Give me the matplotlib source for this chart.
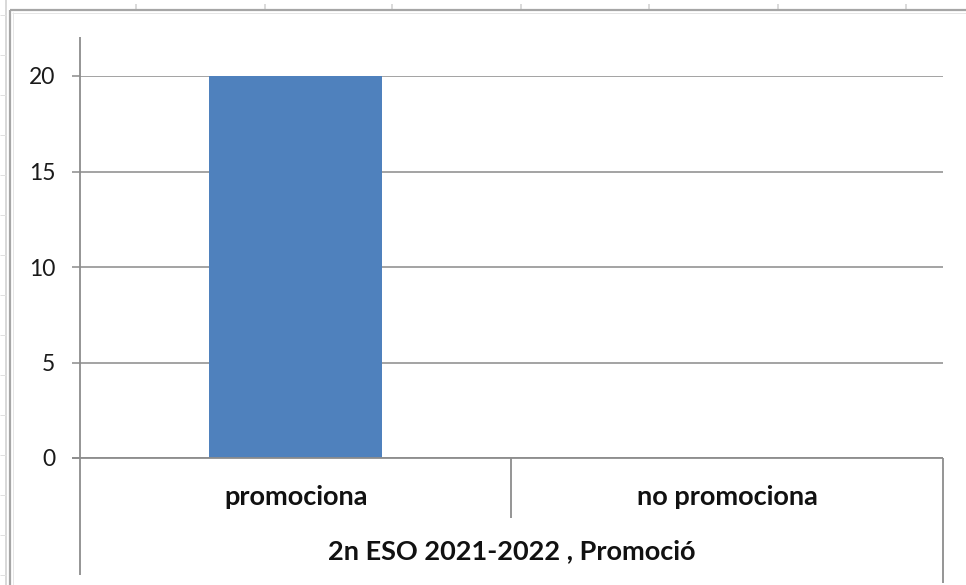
import matplotlib
matplotlib.use("Agg")
import matplotlib.pyplot as plt
from matplotlib.lines import Line2D

categories = ["promociona", "no promociona"]
values = [20, 0]
yticks = [0, 5, 10, 15, 20]
group_label = "2n ESO 2021-2022 , Promoció"

W, H = 966, 585
fig = plt.figure(figsize=(W / 100, H / 100), dpi=100)
fig.patch.set_facecolor("white")


def fx(x):
    return x / W


def fy(y):
    return 1 - y / H


def fline(x0, y0, x1, y1, color, lw_px, z=5):
    fig.add_artist(Line2D([fx(x0), fx(x1)], [fy(y0), fy(y1)], transform=fig.transFigure,
                          color=color, linewidth=lw_px * 0.72, solid_capstyle="butt", zorder=z))


# spreadsheet background hints
fline(6, 0, 6, H, "#d9d9d9", 2, z=1)
for y in range(15, H, 40):
    fline(0, y, 6, y, "#e0e0e0", 1, z=1)
for x in [136, 265, 392, 521, 649, 778, 906]:
    fline(x, 4, x, 10, "#d0d0d0", 1.5, z=1)
# chart area border
fline(10, 10, W, 10, "#a6a6a6", 2.2, z=2)
fline(10, 10, 10, H, "#a6a6a6", 2.2, z=2)
fline(12, 12.5, W, 12.5, "#e6e6e6", 1, z=2)
fline(12.5, 12, 12.5, H, "#e6e6e6", 1, z=2)

x_left, x_right, y_bot, y_top = 80, 943, 458, 76
ax = fig.add_axes([fx(x_left), fy(y_bot), fx(x_right) - fx(x_left), fy(y_top) - fy(y_bot)])
ax.set_facecolor("none")
pos = list(range(len(categories)))
ax.bar(pos, values, width=0.4, color="#4F81BD", zorder=3)
ax.set_xlim(-0.5, len(categories) - 0.5)
ax.set_ylim(0, 20)
ax.set_yticks(yticks)
ax.set_yticklabels([str(t) for t in yticks], fontsize=16.5, color="#1a1a1a", family="Lato")
ax.set_xticks([])
for s in ax.spines.values():
    s.set_visible(False)
ax.yaxis.grid(True, color="#888888", linewidth=1.5 * 0.72, zorder=1)
ax.tick_params(axis="y", length=8 * 0.72, width=1.5 * 0.72, color="#888888", pad=12)
ax.set_axisbelow(True)

# axis lines
gray = "#8c8c8c"
fline(72, y_bot, x_right, y_bot, gray, 1.8, z=6)
fline(x_left, 37, x_left, 575, gray, 1.8, z=6)
fline(511, y_bot, 511, 518, gray, 1.8, z=6)
fline(x_right, y_bot, x_right, 583, gray, 1.8, z=6)

# category labels
for i, c in enumerate(categories):
    xpix = x_left + (i + 0.5) * (x_right - x_left) / len(categories)
    fig.text(fx(xpix), fy(497), c, ha="center", va="center", fontsize=19.5,
             fontweight="bold", family="Lato", color="#111111")
fig.text(fx((x_left + x_right) / 2), fy(551), group_label, ha="center", va="center",
         fontsize=19.5, fontweight="bold", family="Lato", color="#111111")

fig.savefig("out.png", dpi=100)
